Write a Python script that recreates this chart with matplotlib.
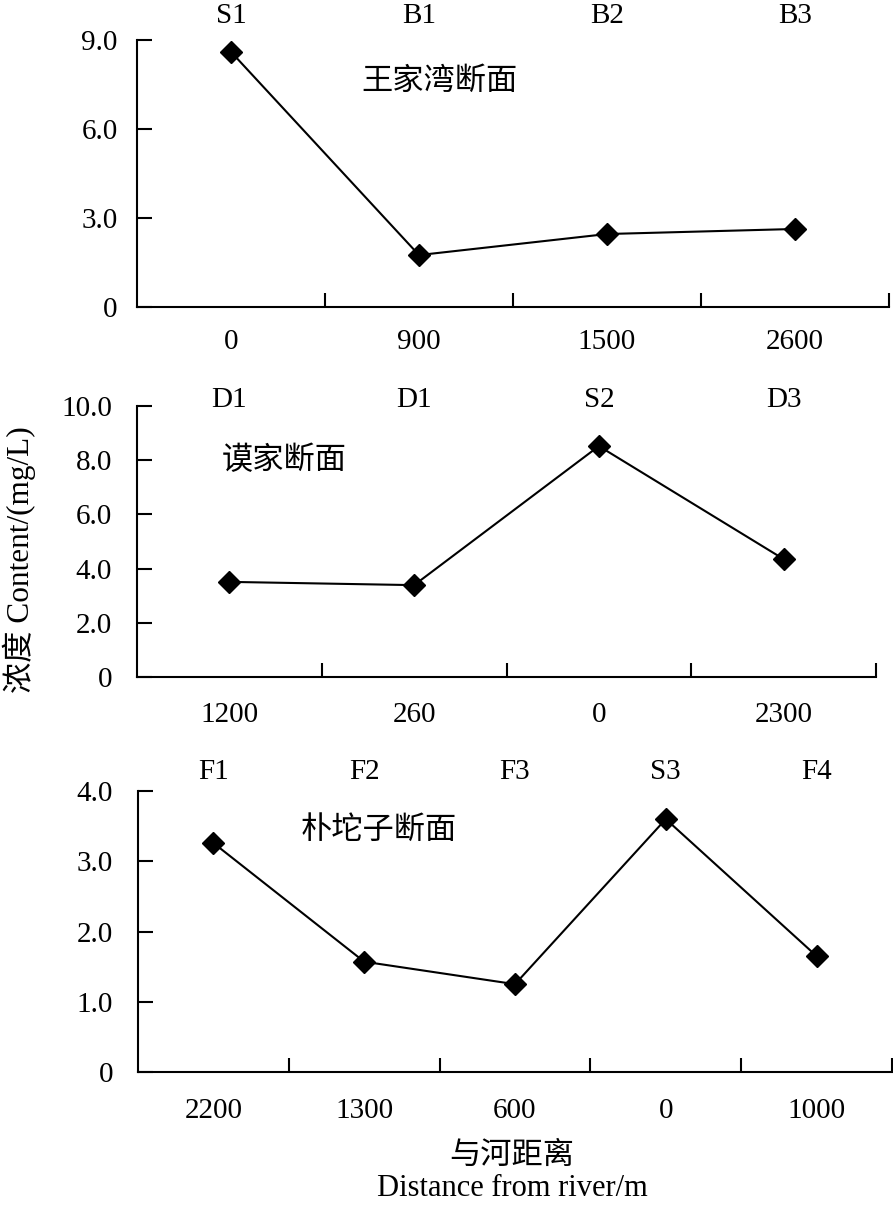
import matplotlib
matplotlib.use("Agg")
import matplotlib.pyplot as plt
from matplotlib.ticker import FixedLocator

plt.rcParams['font.family'] = ['Liberation Serif', 'Noto Sans CJK SC', 'DejaVu Sans']

# ---- data ----
p1_dist = ['0', '900', '1500', '2600']
p1_site = ['S1', 'B1', 'B2', 'B3']
p1_vals = [8.6, 1.75, 2.46, 2.63]
p1_title = '王家湾断面'
p1_yticks = [0, 3, 6, 9]
p1_yticklabels = ['0', '3.0', '6.0', '9.0']

p2_dist = ['1200', '260', '0', '2300']
p2_site = ['D1', 'D1', 'S2', 'D3']
p2_vals = [3.51, 3.39, 8.52, 4.35]
p2_title = '谟家断面'
p2_yticks = [0, 2, 4, 6, 8, 10]
p2_yticklabels = ['0', '2.0', '4.0', '6.0', '8.0', '10.0']

p3_dist = ['2200', '1300', '600', '0', '1000']
p3_site = ['F1', 'F2', 'F3', 'S3', 'F4']
p3_vals = [3.26, 1.57, 1.25, 3.60, 1.65]
p3_title = '朴坨子断面'
p3_yticks = [0, 1, 2, 3, 4]
p3_yticklabels = ['0', '1.0', '2.0', '3.0', '4.0']

ylabel = '浓度 Content/(mg/L)'
xlabel_cn = '与河距离'
xlabel_en = 'Distance from river/m'

W, H = 893, 1205
fig = plt.figure(figsize=(W / 100, H / 100), dpi=100)

FS = 21
CJK_FS = 22.5

def fr(l, r, b, t):
    return [l / W, 1 - b / H, (r - l) / W, (b - t) / H]

panels = [
    dict(rect=fr(137, 889, 307, 40), dist=p1_dist, site=p1_site, vals=p1_vals,
         title=p1_title, yt=p1_yticks, ytl=p1_yticklabels, toppad=8, ypad=14,
         xpad=16, tpos=(0.299, 0.848)),
    dict(rect=fr(137, 876, 677, 406), dist=p2_dist, site=p2_site, vals=p2_vals,
         title=p2_title, yt=p2_yticks, ytl=p2_yticklabels, toppad=-5, ypad=18,
         xpad=18, tpos=(0.115, 0.800)),
    dict(rect=fr(138, 892, 1072, 791), dist=p3_dist, site=p3_site, vals=p3_vals,
         title=p3_title, yt=p3_yticks, ytl=p3_yticklabels, toppad=4, ypad=18,
         xpad=19, tpos=(0.215, 0.860)),
]

for p in panels:
    ax = fig.add_axes(p['rect'])
    n = len(p['vals'])
    x = list(range(n))
    ax.plot(x, p['vals'], color='black', lw=1.5, marker='D', ms=11.5,
            markerfacecolor='black', markeredgecolor='black', clip_on=False)
    ax.set_xlim(-0.5, n - 0.5)
    ax.set_ylim(p['yt'][0], p['yt'][-1])
    ax.set_yticks(p['yt'])
    ax.set_yticklabels(p['ytl'])
    ax.set_xticks(x)
    ax.set_xticklabels(p['dist'])
    ax.xaxis.set_minor_locator(FixedLocator([i + 0.5 for i in range(n)]))
    ax.spines['top'].set_visible(False)
    ax.spines['right'].set_visible(False)
    for s in ('left', 'bottom'):
        ax.spines[s].set_linewidth(1.5)
    ax.tick_params(axis='y', direction='in', length=11, width=1.5, pad=p['ypad'],
                   labelsize=FS)
    ax.tick_params(axis='x', which='major', length=0, pad=p['xpad'], labelsize=FS)
    ax.tick_params(axis='x', which='minor', direction='in', length=10,
                   width=1.5)
    sec = ax.secondary_xaxis('top')
    sec.set_xticks(x)
    sec.set_xticklabels(p['site'])
    sec.tick_params(length=0, pad=p['toppad'], labelsize=FS)
    sec.spines['top'].set_visible(False)
    ax.text(p['tpos'][0], p['tpos'][1], p['title'], transform=ax.transAxes,
            fontsize=CJK_FS, ha='left', va='center', family=['Noto Sans CJK SC'])

fig.text(19 / W, 1 - 560 / H, ylabel, rotation=90, ha='center', va='center',
         fontsize=22.5)
fig.text(512 / W, 1 - 1155 / H, xlabel_cn, ha='center', va='center',
         fontsize=CJK_FS, family=['Noto Sans CJK SC'])
fig.text(512 / W, 1 - 1188 / H, xlabel_en, ha='center', va='center',
         fontsize=22)

fig.savefig('out.png', dpi=100)
